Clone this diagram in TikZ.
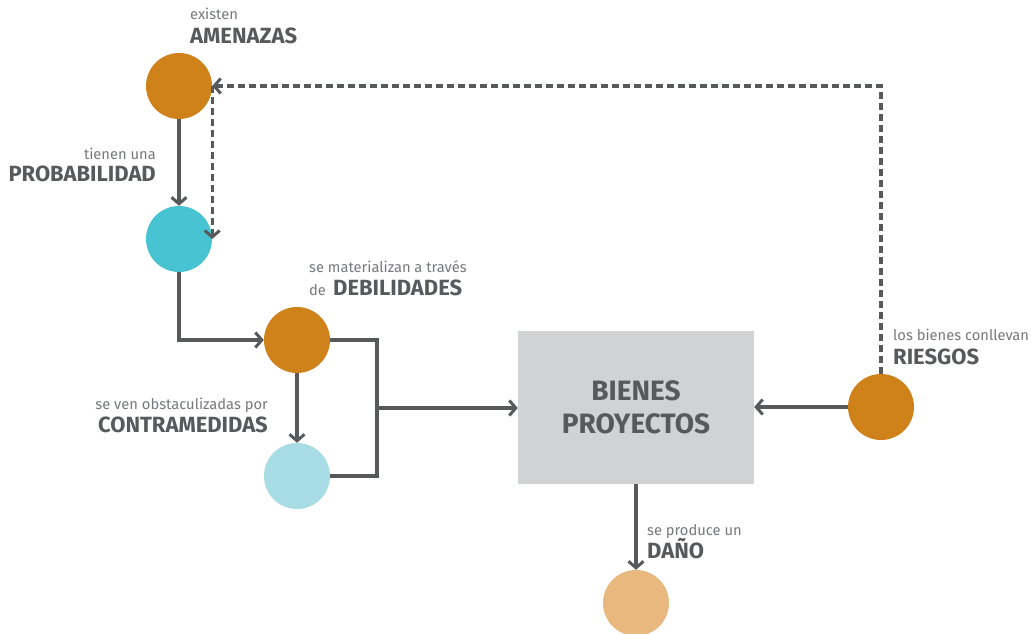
\documentclass[tikz,border=0pt]{standalone}
\usepackage{fontspec}
\setmainfont{Fira Sans}
\usetikzlibrary{arrows.meta}
\definecolor{ln}{HTML}{58595B}
\definecolor{txt}{HTML}{77787B}
\definecolor{orng}{HTML}{D0821A}
\definecolor{cyn}{HTML}{48C3D1}
\definecolor{lcyn}{HTML}{A8DDE5}
\definecolor{lorng}{HTML}{E8B87E}
\definecolor{boxg}{HTML}{D1D2D4}
\tikzset{
  dot/.style={circle, minimum size=66pt, inner sep=0pt, draw=none},
  box/.style={rectangle, fill=boxg, minimum width=236pt, minimum height=153pt, inner sep=0pt,
    font=\fontsize{28}{33}\selectfont\bfseries, text=ln, align=center},
  conn/.style={draw=ln, line width=3.2pt, -{Straight Barb[length=6.5pt,width=15pt,line width=3pt]}},
  plain/.style={draw=ln, line width=3.2pt},
  dconn/.style={conn, dash pattern=on 7pt off 4pt},
  small/.style={font=\fontsize{14.7}{16}\selectfont, text=txt, inner sep=0pt},
  big/.style={font=\fontsize{22}{24}\selectfont\bfseries, text=ln, inner sep=0pt}
}
\begin{document}
\begin{tikzpicture}[x=1pt,y=-1pt]
\useasboundingbox (0,0) rectangle (1031,634);
\node[dot, fill=orng] (amen) at (179,86) {};
\node[dot, fill=cyn] (prob) at (179,239) {};
\node[dot, fill=orng] (debil) at (297,340) {};
\node[dot, fill=lcyn] (contra) at (297,476) {};
\node[dot, fill=orng] (riesg) at (881,407) {};
\node[dot, fill=lorng] (dano) at (636,603) {};
\node[box] (bienes) at (636,407.5) {BIENES\\PROYECTOS};

% labels
\node[small, anchor=base west] (l1) at (190,20) {existen};
\node[big, anchor=base west] (l2) at (190,44) {AMENAZAS};
\node[small, anchor=base east] (l3) at (156,159) {tienen una};
\node[big, anchor=base east] (l4) at (156,181) {PROBABILIDAD};
\node[small, anchor=base west] (l5) at (309,272) {se materializan a través};
\node[small, anchor=base west] (l6) at (309,295) {de};
\node[big, anchor=base west] (l7) at (333,295) {DEBILIDADES};
\node[small, anchor=base east] (l8) at (268,409) {se ven obstaculizadas por};
\node[big, anchor=base east] (l9) at (268,432) {CONTRAMEDIDAS};
\node[small, anchor=base west] (l10) at (893,340) {los bienes conllevan};
\node[big, anchor=base west] (l11) at (893,364) {RIESGOS};
\node[small, anchor=base west] (l12) at (647,535) {se produce un};
\node[big, anchor=base west] (l13) at (647,558) {DAÑO};

% connectors
\draw[conn] (amen) -- (prob);
\draw[dconn] (riesg.north) -- (riesg.north |- amen.east) -- (amen.east);
\draw[dconn] (amen.east) -- (prob.east);
\draw[conn] (prob.south) |- (debil.west);
\draw[conn] (debil) -- (contra);
\coordinate (jn) at (377,408);
\draw[plain] (debil.east) -| (jn) |- (contra.east);
\draw[conn] (jn) -- (jn -| bienes.west);
\draw[conn] (riesg.west) -- (riesg.west -| bienes.east);
\draw[conn] (bienes.south) -- (dano.north);
\end{tikzpicture}
\end{document}
